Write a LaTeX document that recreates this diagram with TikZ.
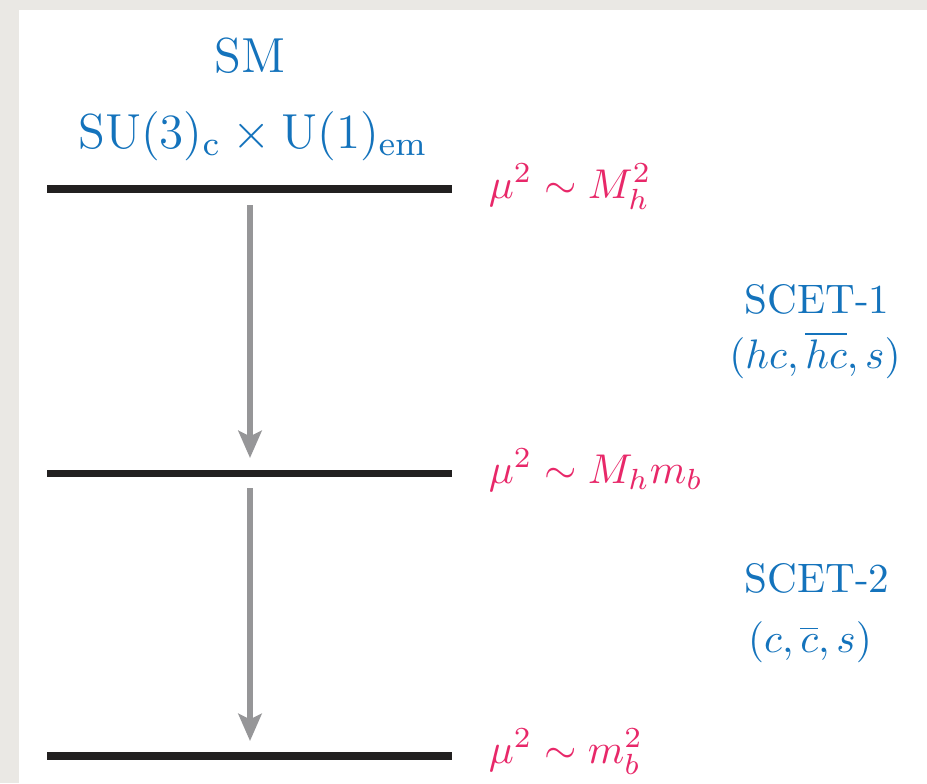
\RequirePackage{fix-cm}
\documentclass[tikz,border=0pt]{standalone}
\usetikzlibrary{arrows.meta}
\definecolor{bgpaper}{RGB}{234,232,228}
\definecolor{labelblue}{RGB}{20,115,188}
\definecolor{scalepink}{RGB}{232,40,105}
\definecolor{levelblack}{RGB}{34,32,32}
\definecolor{arrowgray}{RGB}{150,150,152}
\tikzset{
  level/.style={draw=levelblack, line width=1.9pt},
  flow/.style={draw=arrowgray, line width=1.4pt, -{Stealth[length=6.8pt, width=5.8pt, inset=1.4pt]}},
  bluetext/.style={text=labelblue, font=\fontsize{12.3}{15}\selectfont, inner sep=0pt, align=center},
  efttext/.style={text=labelblue, font=\fontsize{10.3}{12}\selectfont, inner sep=0pt, align=center},
  pinktext/.style={text=scalepink, font=\fontsize{10.4}{12}\selectfont, inner sep=0pt, anchor=base west}
}
\begin{document}
\begin{tikzpicture}[x=0.25pt, y=-0.25pt]
\useasboundingbox (0,0) rectangle (927,783);
\fill[bgpaper] (0,0) rectangle (927,783);
\fill[white] (19,10) rectangle (927,783);
% levels
\coordinate (l1w) at (47,189); \coordinate (l1e) at (452,189);
\coordinate (l2w) at (47,473.5); \coordinate (l2e) at (452,473.5);
\coordinate (l3w) at (47,756); \coordinate (l3e) at (452,756);
\draw[level] (l1w) -- (l1e);
\draw[level] (l2w) -- (l2e);
\draw[level] (l3w) -- (l3e);
% arrows
\coordinate (a1s) at (250,205); \coordinate (a1e) at (250,458);
\coordinate (a2s) at (250,488); \coordinate (a2e) at (250,741);
\draw[flow] (a1s) -- (a1e);
\draw[flow] (a2s) -- (a2e);
% top labels
\node[bluetext, anchor=base] (sm) at (250,72) {SM};
\node[bluetext, anchor=base] (group) at (253,148) {$\mathrm{SU}(3)_{\mathrm{c}}\times \mathrm{U}(1)_{\mathrm{em}}$};
% scales
\node[pinktext] (s1) at (488,198) {$\mu^2\sim M_h^2$};
\node[pinktext] (s2) at (488,483) {$\mu^2\sim M_h m_b$};
\node[pinktext] (s3) at (488,763) {$\mu^2\sim m_b^2$};
% EFT labels
\node[efttext, anchor=base] (scet1) at (817,313) {SCET-1};
\node[efttext, anchor=base] (modes1) at (815,368) {$(hc,\overline{hc},s)$};
\node[efttext, anchor=base] (scet2) at (817,592) {SCET-2};
\node[efttext, anchor=base] (modes2) at (810,652) {$(c,\overline{c},s)$};
\end{tikzpicture}
\end{document}
